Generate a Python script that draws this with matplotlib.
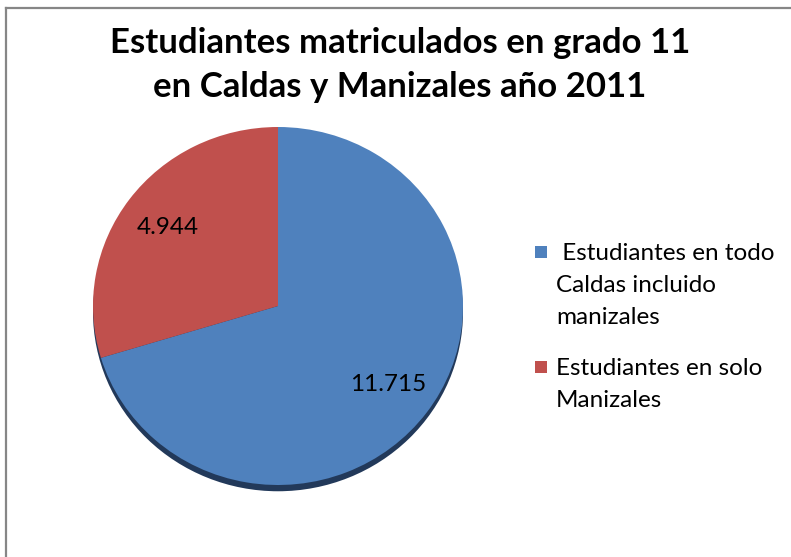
import matplotlib
matplotlib.use("Agg")
import matplotlib.pyplot as plt
from matplotlib.patches import Ellipse, Rectangle
from matplotlib.lines import Line2D

title = "Estudiantes matriculados en grado 11\nen Caldas y Manizales año 2011"
categories = [" Estudiantes en todo\nCaldas incluido\nmanizales", "Estudiantes en solo\nManizales"]
values = [11715, 4944]
colors = ["#4F81BD", "#C0504D"]

plt.rcParams['font.family'] = ['Lato', 'DejaVu Sans']

W, H = 791, 557
fig = plt.figure(figsize=(W / 100, H / 100), dpi=100)
fig.patch.set_facecolor("white")

# pie axes (slightly elliptical, like the original perspective)
cx, cy, rx, ry = 278, 306, 185, 179
ax = fig.add_axes([(cx - rx) / W, 1 - (cy + ry) / H, 2 * rx / W, 2 * ry / H])

total = sum(values)
def fmt(p):
    v = int(round(p * total / 100))
    return f"{v:,}".replace(",", ".")

shadow = Ellipse((0, -0.035), 2.0, 2.0, facecolor="#22395A", edgecolor="none", zorder=0)
shadow.set_clip_on(False)
ax.add_patch(shadow)
wedges, texts, autotexts = ax.pie(values, colors=colors, startangle=90, counterclock=False,
                                  autopct=fmt, pctdistance=0.74, radius=1.0,
                                  textprops=dict(fontsize=17.5, color="black"),
                                  wedgeprops=dict(linewidth=0))
for w in wedges:
    w.set_zorder(1)
for t in autotexts:
    t.set_zorder(3)
ax.set_aspect('auto')
ax.set_xlim(-1, 1)
ax.set_ylim(-1, 1)
ax.axis('off')

fig.text(400 / W, 1 - 65 / H, title, ha="center", va="center", fontsize=25,
         fontweight="bold", linespacing=1.45)

# legend, drawn by hand so the swatch sits beside the first line of each label
entry_tops = [252, 367]
for lab, col, yc in zip(categories, colors, entry_tops):
    fig.add_artist(Rectangle((535 / W, 1 - (yc + 6) / H), 12 / W, 12 / H,
                             transform=fig.transFigure, facecolor=col, edgecolor="none"))
    fig.text(556 / W, 1 - (yc - 9) / H, lab, ha="left", va="top", fontsize=17.5,
             linespacing=1.66)

# outer chart border (left and top visible)
fig.add_artist(Line2D([5.5 / W, 5.5 / W], [0, 1 - 7.5 / H], transform=fig.transFigure,
                      color="#868686", linewidth=1.6))
fig.add_artist(Line2D([5.5 / W, 1], [1 - 7.5 / H, 1 - 7.5 / H], transform=fig.transFigure,
                      color="#868686", linewidth=1.6))

fig.savefig("out.png", dpi=100)
